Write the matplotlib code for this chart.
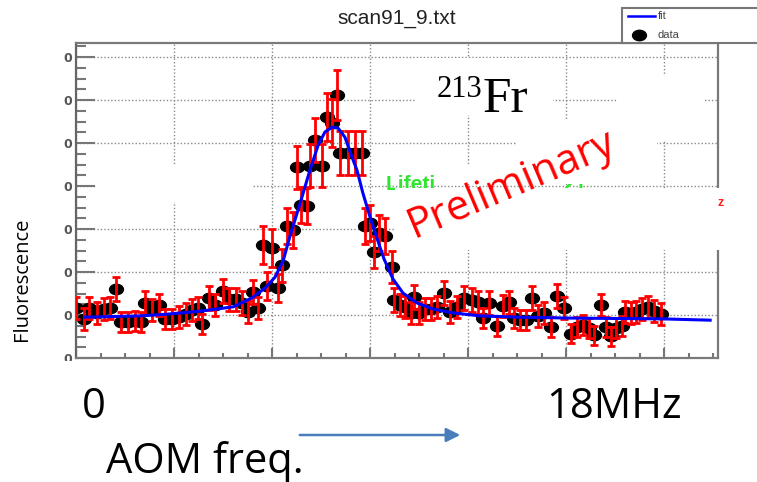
import matplotlib
matplotlib.use('Agg')
import matplotlib.pyplot as plt
from matplotlib.path import Path
from matplotlib.transforms import Affine2D
from matplotlib.patches import Rectangle, FancyArrowPatch
from matplotlib.lines import Line2D
from matplotlib.ticker import MultipleLocator

# scan data: AOM frequency (MHz), fluorescence (arb.), error
freq = [0.00, 0.24, 0.40, 0.64, 0.86, 1.04, 1.22, 1.38, 1.59, 1.81,
        1.99, 2.11, 2.33, 2.54, 2.72, 2.94, 3.15, 3.37, 3.55, 3.73,
        3.86, 4.07, 4.25, 4.50, 4.68, 4.90, 5.08, 5.26, 5.42, 5.57,
        5.72, 5.85, 6.00, 6.18, 6.31, 6.46, 6.64, 6.76, 6.89, 7.07,
        7.16, 7.32, 7.53, 7.68, 7.84, 7.99, 8.08, 8.33, 8.54, 8.75,
        8.85, 9.00, 9.12, 9.27, 9.46, 9.67, 9.73, 9.92, 10.07, 10.25,
        10.35, 10.50, 10.68, 10.87, 11.05, 11.26, 11.45, 11.66, 11.88, 12.12,
        12.30, 12.46, 12.64, 12.89, 13.07, 13.25, 13.41, 13.59, 13.77, 13.96,
        14.14, 14.33, 14.54, 14.72, 14.94, 15.15, 15.34, 15.52, 15.70, 15.86,
        16.07, 16.22, 16.38, 16.53, 16.71, 16.80, 16.99, 17.14, 17.33, 17.51,
        17.69, 17.91]
counts = [1.16, 0.91, 1.16, 1.05, 1.14, 1.16, 1.60, 0.84, 0.84, 0.86,
          0.84, 1.28, 1.12, 1.23, 0.91, 0.91, 0.95, 1.02, 1.12, 1.16,
          0.79, 1.40, 1.23, 1.56, 1.37, 1.37, 1.28, 1.07, 1.53, 1.16,
          2.63, 1.67, 2.56, 1.63, 2.16, 3.07, 2.98, 4.44, 3.56, 3.53,
          4.47, 5.07, 4.47, 5.60, 5.47, 6.12, 4.77, 4.77, 4.77, 4.77,
          3.07, 3.14, 2.47, 2.91, 2.84, 2.12, 1.35, 1.23, 1.19, 1.05,
          1.42, 1.05, 1.14, 1.14, 1.19, 1.51, 1.07, 1.19, 1.40, 1.35,
          1.30, 0.93, 1.28, 0.74, 1.21, 1.30, 0.93, 0.88, 0.88, 1.40,
          0.98, 1.05, 0.72, 1.44, 1.16, 0.56, 0.72, 0.77, 0.70, 0.53,
          1.23, 0.72, 0.51, 0.70, 0.74, 1.07, 1.05, 1.07, 1.14, 1.19,
          1.09, 1.02]
err = [0.25, 0.25, 0.25, 0.25, 0.25, 0.25, 0.28, 0.24, 0.24, 0.24,
       0.24, 0.27, 0.25, 0.26, 0.24, 0.24, 0.25, 0.25, 0.25, 0.26,
       0.23, 0.28, 0.26, 0.28, 0.27, 0.27, 0.27, 0.25, 0.28, 0.26,
       0.45, 0.32, 0.44, 0.32, 0.38, 0.42, 0.42, 0.50, 0.42, 0.42,
       0.50, 0.52, 0.50, 0.56, 0.55, 0.58, 0.52, 0.52, 0.52, 0.52,
       0.42, 0.42, 0.38, 0.42, 0.42, 0.38, 0.28, 0.26, 0.26, 0.25,
       0.28, 0.25, 0.25, 0.25, 0.26, 0.28, 0.25, 0.26, 0.28, 0.28,
       0.27, 0.24, 0.27, 0.23, 0.26, 0.27, 0.24, 0.24, 0.24, 0.28,
       0.25, 0.25, 0.23, 0.28, 0.26, 0.22, 0.23, 0.24, 0.23, 0.22,
       0.26, 0.23, 0.22, 0.23, 0.23, 0.25, 0.25, 0.25, 0.26, 0.26,
       0.25, 0.25]

# fitted lineshape
fit_x = [0.28, 1.96, 2.79, 3.80, 4.81, 5.39, 5.79, 6.09, 6.34, 6.55,
         6.86, 7.16, 7.41, 7.62, 7.84, 8.02, 8.23, 8.45, 8.60, 8.78,
         9.00, 9.21, 9.43, 9.70, 10.01, 10.44, 10.93, 11.54, 12.37, 13.59,
         15.03, 17.97, 19.41]
fit_y = [0.95, 0.98, 1.02, 1.09, 1.19, 1.40, 1.63, 1.88, 2.26, 2.84,
         3.60, 4.37, 4.95, 5.26, 5.37, 5.35, 5.14, 4.67, 4.37, 3.84,
         3.28, 2.79, 2.30, 1.84, 1.51, 1.28, 1.14, 1.05, 0.98, 0.95,
         0.93, 0.91, 0.88]

ytick_vals = [0, 1, 2, 3, 4, 5, 6, 7]
ytick_labels = ['0'] * len(ytick_vals)

W, H = 757, 482


def fx(px):
    return px / W


def fy(py):
    return 1 - py / H


fig = plt.figure(figsize=(W / 100, H / 100), dpi=100)
fig.patch.set_facecolor('white')
ax = fig.add_axes([fx(76), fy(358), 642 / W, 315 / H])
ax.set_xlim(0, 19.65)
ax.set_ylim(0, 7.33)
ax.set_axisbelow(True)

# ROOT-ish frame and ticks
for side in ['left', 'right', 'top', 'bottom']:
    ax.spines[side].set_color('#7a7a7a')
    ax.spines[side].set_linewidth(1.6)
ax.spines['left'].set_color('#666666')

ax.xaxis.set_major_locator(MultipleLocator(3))
ax.xaxis.set_minor_locator(MultipleLocator(0.75))
ax.set_yticks(ytick_vals)
ax.set_yticklabels(ytick_labels)
ax.yaxis.set_minor_locator(MultipleLocator(0.25))
ax.tick_params(axis='y', which='major', direction='in', length=13.5, width=1.5,
               color='#777777', labelsize=9, labelcolor='#555555', pad=3, right=False)
ax.tick_params(axis='y', which='minor', direction='in', length=7, width=1.5,
               color='#777777', right=False)
ax.tick_params(axis='x', which='major', direction='in', length=7, width=1.5,
               color='#777777', labelbottom=False, top=False)
ax.tick_params(axis='x', which='minor', direction='in', length=3.5, width=1.5,
               color='#777777', top=False)
for lab in ax.get_yticklabels():
    lab.set_fontweight('bold')
ax.grid(True, which='major', color='#8a8a8a', linestyle=(0, (1, 1.5)), linewidth=1.0)

# patched-over areas of the grid
for x0, y0, x1, y1 in [(97, 165, 252, 202), (415, 58, 553, 115), (617, 76, 703, 140),
                       (517, 120, 657, 184), (440, 165, 500, 184), (395, 188, 740, 250)]:
    ax.add_patch(Rectangle((fx(x0), fy(y1)), (x1 - x0) / W, (y1 - y0) / H,
                           transform=fig.transFigure, facecolor='white',
                           edgecolor='none', zorder=2.6, clip_on=False))

# leftover stats-box text
ax.text(fx(386), fy(190), 'Lifeti', transform=fig.transFigure, color='#2ee62e',
        fontsize=15, fontweight='bold', family='Liberation Sans', zorder=2.55)
ax.text(fx(563), fy(190), '21', transform=fig.transFigure, color='#2ee62e',
        fontsize=15, fontweight='bold', family='Liberation Sans', zorder=2.55)

ellipse = Path.unit_circle().transformed(Affine2D().scale(1.0, 0.75))
ax.plot(freq, counts, linestyle='none', marker=ellipse, markersize=10,
        color='black', zorder=3)
ax.errorbar(freq, counts, yerr=err, fmt='none', ecolor='#ff0000', elinewidth=2.0,
            capsize=3, capthick=2.0, zorder=3.5)
ax.plot(fit_x, fit_y, color='#0000ff', linewidth=2.2, zorder=4)

# title, legend
fig.text(fx(397), fy(18), 'scan91_9.txt', ha='center', va='center', fontsize=15,
         color='#222222', family='Liberation Sans')
fig.add_artist(Rectangle((fx(622), fy(43)), (760 - 622) / W, 35 / H,
                         transform=fig.transFigure, facecolor='white',
                         edgecolor='#777777', linewidth=1.5, clip_on=False))
fig.add_artist(Line2D([fx(628), fx(655)], [fy(16), fy(16)], color='#0000ff',
                      linewidth=1.8, transform=fig.transFigure))
fig.add_artist(Line2D([fx(639)], [fy(35)], marker=ellipse, markersize=10,
                      color='black', transform=fig.transFigure))
fig.text(fx(658), fy(16), 'fit', va='center', fontsize=8, color='#444444',
         family='Liberation Sans')
fig.text(fx(658), fy(35), 'data', va='center', fontsize=8, color='#444444',
         family='Liberation Sans')

fig.text(fx(22), fy(279), 'Fluorescence', rotation=90, ha='center', va='center',
         fontsize=14.5, family='Open Sans')

fig.text(fx(437), fy(97), '213', fontsize=22, family='Liberation Serif', va='baseline')
fig.text(fx(483), fy(112), 'Fr', fontsize=37, family='Liberation Serif', va='baseline')
fig.text(fx(512), fy(184), 'Preliminary', rotation=23, rotation_mode='anchor',
         ha='center', va='center', color='#ff0000', fontsize=30, family='Open Sans')
fig.text(fx(718), fy(206), 'z', color='#ff2020', fontsize=9, fontweight='bold',
         family='Liberation Sans')

# blank strip below the frame with the frequency annotations
fig.add_artist(Rectangle((0, 0), 1, fy(361), transform=fig.transFigure,
                         facecolor='white', edgecolor='none', zorder=5))
fig.text(fx(82), fy(418), '0', fontsize=30, family='Open Sans', va='baseline', zorder=6)
fig.text(fx(546), fy(418), '18MHz', fontsize=30, family='Open Sans', va='baseline', zorder=6)
fig.text(fx(106), fy(473), 'AOM freq.', fontsize=30, family='Open Sans', va='baseline', zorder=6)
fig.add_artist(FancyArrowPatch((fx(297), fy(435)), (fx(463), fy(435)),
                               transform=fig.transFigure,
                               arrowstyle='-|>,head_length=0.6,head_width=0.3',
                               mutation_scale=14, color='#4a7ebb', linewidth=1.8,
                               zorder=6))

fig.savefig('out.png', dpi=100)
